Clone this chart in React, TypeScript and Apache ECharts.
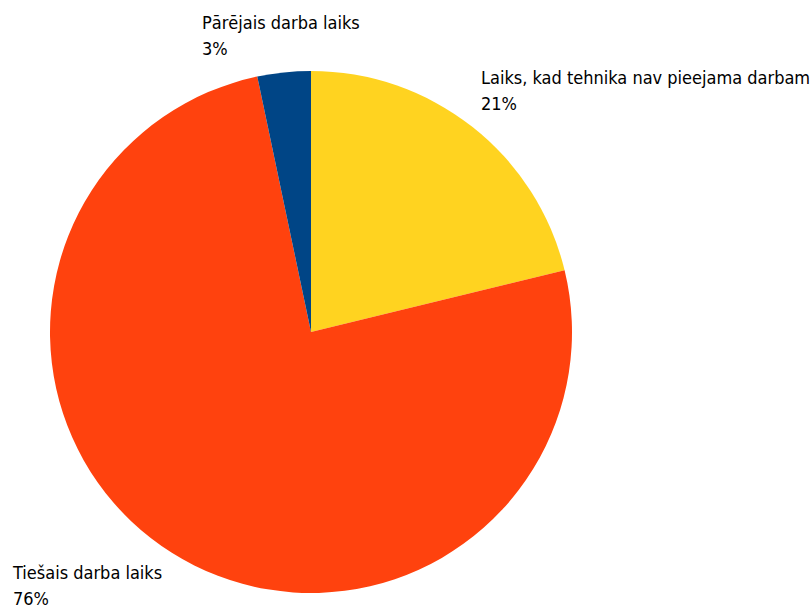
import React, { useEffect, useRef } from "react";
import * as echarts from "echarts";

const categories = [
  "Laiks, kad tehnika nav pieejama darbam",
  "Tiešais darba laiks",
  "Pārējais darba laiks",
];
const values = [21.2, 75.5, 3.3];
const percentLabels = ["21%", "76%", "3%"];
const colors = ["#FFD320", "#FF420E", "#004586"];
const labelPos = [
  { x: 481, y: 64 },
  { x: 13, y: 559 },
  { x: 202, y: 9 },
];

export default function App() {
  const ref = useRef<HTMLDivElement>(null);
  useEffect(() => {
    document.body.style.margin = "0";
    const chart = echarts.init(ref.current!, null, { renderer: "svg" });
    chart.setOption({
      animation: false,
      backgroundColor: "#ffffff",
      series: [
        {
          type: "pie",
          center: [311, 332],
          radius: 261,
          startAngle: 90,
          clockwise: true,
          data: categories.map((name, i) => ({
            name,
            value: values[i],
            itemStyle: { color: colors[i] },
          })),
          label: {
            show: true,
            formatter: (p: any) => `${p.name}\n${percentLabels[p.dataIndex]}`,
            fontFamily: "'DejaVu Sans Condensed', 'DejaVu Sans', sans-serif",
            fontSize: 18,
            lineHeight: 26,
            color: "#000000",
            overflow: "none",
          },
          labelLine: { show: false },
          labelLayout: (params: any) => ({
            x: labelPos[params.dataIndex].x,
            y: labelPos[params.dataIndex].y,
            align: "left",
            verticalAlign: "top",
            width: 340,
          }),
          emphasis: { disabled: true },
        },
      ],
    });
    return () => chart.dispose();
  }, []);
  return <div ref={ref} style={{ width: 811, height: 612 }} />;
}
